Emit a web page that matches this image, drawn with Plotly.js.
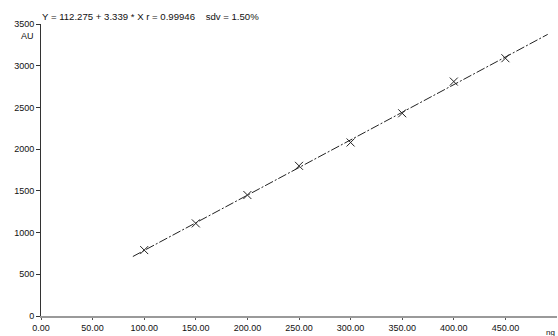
<!DOCTYPE html>
<html>
<head>
<meta charset="utf-8">
<script src="https://cdn.plot.ly/plotly-3.0.1.min.js"></script>
<style>html,body{margin:0;padding:0;background:#fff;}#chart{width:558px;height:336px;}</style>
</head>
<body>
<div id="chart"></div>
<script>
// Calibration standards (amount, ng) and measured response (AU)
const amounts = [100, 150, 200, 250, 300, 350, 400, 450];
const responses = [790, 1110, 1450, 1800, 2080, 2430, 2810, 3090];
// Extent of the drawn regression line (ng)
const fitExtent = [89, 491];
const xTicks = [0, 50, 100, 150, 200, 250, 300, 350, 400, 450];
const yTicks = [0, 500, 1000, 1500, 2000, 2500, 3000, 3500];
const equationText = 'Y = 112.275 + 3.339 * X r = 0.99946    sdv = 1.50%';

// least-squares fit of the points
const n = amounts.length;
const mx = amounts.reduce((a, b) => a + b, 0) / n;
const my = responses.reduce((a, b) => a + b, 0) / n;
let sxy = 0, sxx = 0;
for (let i = 0; i < n; i++) { sxy += (amounts[i] - mx) * (responses[i] - my); sxx += (amounts[i] - mx) ** 2; }
const slope = sxy / sxx, icpt = my - slope * mx;
const fitY = fitExtent.map(x => icpt + slope * x);

const font = {family: 'Liberation Sans, Arial, sans-serif', size: 9, color: '#111'};

Plotly.newPlot('chart', [
  {x: fitExtent, y: fitY, type: 'scatter', mode: 'lines',
   line: {color: '#222', width: 1, dash: '9px,2px,2px,2px'}, hoverinfo: 'skip'},
  {x: amounts, y: responses, type: 'scatter', mode: 'markers',
   marker: {symbol: 'x-thin', size: 8, line: {color: '#222', width: 1}}}
], {
  width: 558, height: 336,
  margin: {l: 41, r: 1, t: 24, b: 20},
  paper_bgcolor: '#fff', plot_bgcolor: '#fff',
  showlegend: false,
  font: font,
  xaxis: {range: [0, 500], tickvals: xTicks, tickformat: '.2f', showgrid: false, zeroline: false,
          showline: true, linecolor: '#9a9a9a', linewidth: 2, ticks: 'outside', ticklen: 2, tickcolor: '#555',
          tickfont: font},
  yaxis: {range: [0, 3500], tickvals: yTicks, tickformat: 'd', showgrid: false, zeroline: false,
          showline: true, linecolor: '#333', linewidth: 1, ticks: 'outside', ticklen: 4, tickcolor: '#333',
          tickfont: font},
  annotations: [
    {text: equationText, xref: 'paper', yref: 'paper', x: 0, y: 1, xanchor: 'left', yanchor: 'bottom',
     xshift: -1, yshift: 0, showarrow: false, font: {family: font.family, size: 9.6, color: '#111'}},
    {text: 'AU', xref: 'paper', yref: 'paper', x: 0, y: 1, xanchor: 'right', yanchor: 'top',
     xshift: -5, yshift: -5, showarrow: false, font: font},
    {text: 'ng', xref: 'paper', yref: 'paper', x: 1, y: 0, xanchor: 'right', yanchor: 'top',
     yshift: -10, showarrow: false, font: {family: font.family, size: 8, color: '#111'}}
  ]
}, {staticPlot: true, displayModeBar: false});
</script>
</body>
</html>
